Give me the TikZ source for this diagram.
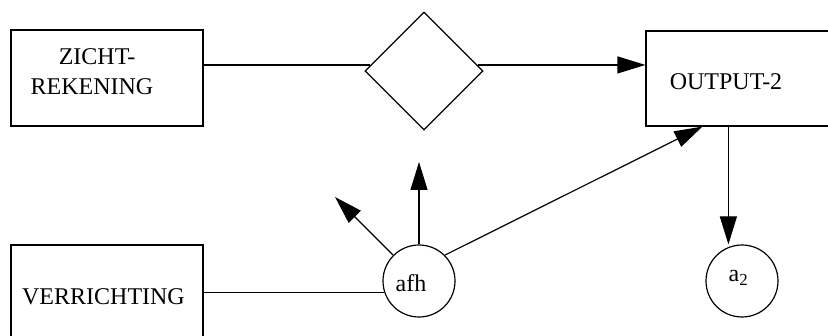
\documentclass[tikz,border=0pt]{standalone}
\usepackage{fontspec}
\setmainfont{Liberation Serif}
\usetikzlibrary{arrows.meta,shapes.geometric,calc}
\begin{document}
\begin{tikzpicture}[x=1pt,y=-1pt,line width=1.2pt,
  box/.style={draw,rectangle,inner sep=0pt},
  circ/.style={draw,circle,minimum size=72pt,inner sep=0pt},
  lbl/.style={anchor=base,inner sep=0pt,font=\fontsize{24}{29}\selectfont},
  arr/.style={-{Triangle[length=28pt,width=17pt]}}]
\useasboundingbox (0,0) rectangle (828,336);
\clip (0,0) rectangle (828,336);

% boxes
\node[box,minimum width=192pt,minimum height=96pt] (zr) at (107,78) {};
\node[box,minimum width=192pt,minimum height=120pt] (ver) at (107,305) {};
\node[box,minimum width=234pt,minimum height=95pt] (out) at (763,78.5) {};
\node[draw,diamond,minimum width=118pt,minimum height=118pt,inner sep=0pt] (dia) at (424,71) {};
\node[circ] (afh) at (419,281) {};
\node[circ] (a2) at (742,281) {};

% texts
\node[lbl] (zt1) at (97,65) {ZICHT-};
\node[lbl] (zt2) at (92,95) {REKENING};
\node[lbl] (vt) at (103.5,305) {VERRICHTING};
\node[lbl] (ot) at (726,90) {OUTPUT-2};
\node[lbl] (afht) at (411,292) {afh};
\node[lbl] (a2t) at (738.5,282) {a\textsubscript{2}};

% connector points
\coordinate (din) at ($(dia.west)!0.1017!(dia.north)$);
\coordinate (dout) at ($(dia.east)!0.1017!(dia.north)$);
\coordinate (up) at (418,162);
\coordinate (ul) at (335,197);
\coordinate (oin) at ([xshift=57pt]out.south west);
\coordinate (odn) at ([xshift=83pt]out.south west);

% connectors
\draw (zr.east |- din) -- (din);
\draw[arr] (dout) -- (dout -| out.west);
\draw[arr] (afh.north) -- (afh.north |- up);
\draw[arr] (afh.135) -- (ul);
\draw[arr] (afh.45) -- (oin);
\draw[arr] (odn) -- (odn |- a2.north);
\draw (ver.east |- afh.198) -- (afh.198);
\end{tikzpicture}
\end{document}
